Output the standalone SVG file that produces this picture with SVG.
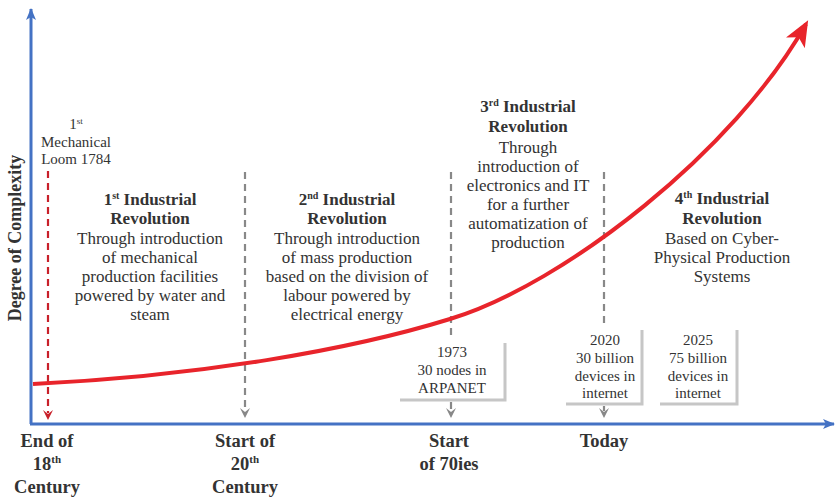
<svg xmlns="http://www.w3.org/2000/svg" width="835" height="499" viewBox="0 0 835 499">
<style>
text{font-family:"Liberation Serif","Times New Roman",serif;fill:#333;text-anchor:middle}
.b{font-weight:bold;font-size:17px}
.t{font-size:17px}
.s{font-size:15px}
.ax{font-weight:bold;font-size:18.5px}
.sup{font-size:10px}
.dg{stroke:#888;stroke-width:2.2;stroke-dasharray:7 5;fill:none}
.dr{stroke:#C8202A;stroke-width:2.2;stroke-dasharray:7 5;fill:none}
.box{stroke:#c6c6c6;stroke-width:3;fill:none}
</style>
<defs>
<marker id="ab" viewBox="0 0 12 10" refX="11" refY="5" markerWidth="12" markerHeight="10" markerUnits="userSpaceOnUse" orient="auto"><path d="M0,0 L12,5 L0,10 L3,5 Z" fill="#4472C4"/></marker>
<marker id="ar" viewBox="0 0 12 10" refX="10" refY="5" markerWidth="6.5" markerHeight="5.5" orient="auto"><path d="M0,0 L12,5 L0,10 L3,5 Z" fill="#E8242B"/></marker>
</defs>
<g id="axes">
<line x1="31" y1="424" x2="31" y2="9" stroke="#4472C4" stroke-width="3" marker-end="url(#ab)"/>
<line x1="30" y1="424" x2="834" y2="424" stroke="#4472C4" stroke-width="3" marker-end="url(#ab)"/>
<text class="ax" transform="translate(21,238) rotate(-90)" style="font-size:18px">Degree of Complexity</text>
</g>
<g id="connectors">
<line class="dr" x1="48" y1="171" x2="48" y2="413"/>
<path d="M43,410 L48,420 L53,410 L48,414 Z" fill="#C8202A"/>
<line class="dg" x1="245" y1="172" x2="245" y2="411"/>
<path d="M240,408 L245,418 L250,408 L245,412 Z" fill="#888"/>
<line class="dg" x1="451" y1="172" x2="451" y2="340"/>
<line class="dg" x1="451" y1="402" x2="451" y2="411"/>
<path d="M446,408 L451,418 L456,408 L451,412 Z" fill="#888"/>
<line class="dg" x1="604" y1="172" x2="604" y2="326"/>
<line class="dg" x1="604" y1="406" x2="604" y2="411"/>
<path d="M599,408 L604,418 L609,408 L604,412 Z" fill="#888"/>
<path d="M33,384 C200,376 350,350 450,319 C565,284 735,150 806,24" stroke="#E8242B" stroke-width="4" fill="none" marker-end="url(#ar)"/>
</g>
<g id="loom">
<text class="s" x="76" y="129">1<tspan style="font-size:9px" dy="-5">st</tspan></text>
<text class="s" x="76" y="147">Mechanical</text>
<text class="s" x="76" y="164">Loom 1784</text>
</g>
<g id="ir1">
<text class="b" x="150" y="205">1<tspan class="sup" dy="-6">st</tspan><tspan dy="6"> Industrial</tspan></text>
<text class="b" x="150" y="224">Revolution</text>
<text class="t" x="150" y="244">Through introduction</text>
<text class="t" x="150" y="263">of mechanical</text>
<text class="t" x="150" y="282">production facilities</text>
<text class="t" x="150" y="301">powered by water and</text>
<text class="t" x="150" y="320">steam</text>
</g>
<g id="ir2">
<text class="b" x="347" y="205">2<tspan class="sup" dy="-6">nd</tspan><tspan dy="6"> Industrial</tspan></text>
<text class="b" x="347" y="224">Revolution</text>
<text class="t" x="347" y="244">Through introduction</text>
<text class="t" x="347" y="263">of mass production</text>
<text class="t" x="347" y="282">based on the division of</text>
<text class="t" x="347" y="301">labour powered by</text>
<text class="t" x="347" y="320">electrical energy</text>
</g>
<g id="ir3">
<text class="b" x="528" y="112">3<tspan class="sup" dy="-6">rd</tspan><tspan dy="6"> Industrial</tspan></text>
<text class="b" x="528" y="132">Revolution</text>
<text class="t" x="528" y="153">Through</text>
<text class="t" x="528" y="172">introduction of</text>
<text class="t" x="528" y="191">electronics and IT</text>
<text class="t" x="528" y="210">for a further</text>
<text class="t" x="528" y="229">automatization of</text>
<text class="t" x="528" y="248">production</text>
</g>
<g id="ir4">
<text class="b" x="722" y="204">4<tspan class="sup" dy="-6">th</tspan><tspan dy="6"> Industrial</tspan></text>
<text class="b" x="722" y="224">Revolution</text>
<text class="t" x="722" y="244">Based on Cyber-</text>
<text class="t" x="722" y="263">Physical Production</text>
<text class="t" x="722" y="282">Systems</text>
</g>
<g id="box1973">
<path class="box" d="M400,400 L505,400 L505,343"/>
<text class="s" x="452" y="357">1973</text>
<text class="s" x="452" y="375">30 nodes in</text>
<text class="s" x="452" y="393">ARPANET</text>
</g>
<g id="box2020">
<path class="box" d="M566,404 L642,404 L642,330"/>
<text class="s" x="605" y="345">2020</text>
<text class="s" x="605" y="363">30 billion</text>
<text class="s" x="605" y="381">devices in</text>
<text class="s" x="605" y="398">internet</text>
</g>
<g id="box2025">
<path class="box" d="M660,404 L737,404 L737,330"/>
<text class="s" x="698" y="345">2025</text>
<text class="s" x="698" y="363">75 billion</text>
<text class="s" x="698" y="381">devices in</text>
<text class="s" x="698" y="398">internet</text>
</g>
<g id="xlabels">
<text class="ax" x="47" y="447">End of</text>
<text class="ax" x="47" y="470">18<tspan style="font-size:11px" dy="-7">th</tspan></text>
<text class="ax" x="47" y="493">Century</text>
<text class="ax" x="245" y="447">Start of</text>
<text class="ax" x="245" y="470">20<tspan style="font-size:11px" dy="-7">th</tspan></text>
<text class="ax" x="245" y="493">Century</text>
<text class="ax" x="449" y="447">Start</text>
<text class="ax" x="449" y="470">of 70ies</text>
<text class="ax" x="604" y="447">Today</text>
</g>
</svg>
